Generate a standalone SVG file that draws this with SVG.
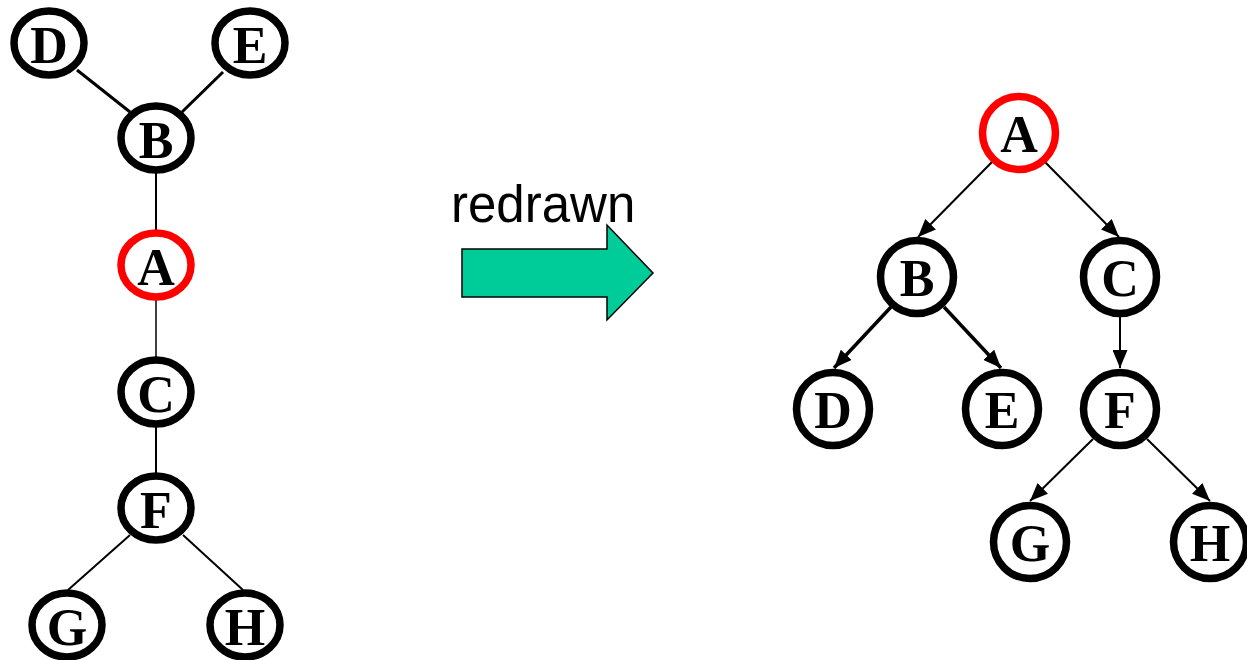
<svg xmlns="http://www.w3.org/2000/svg" width="1247" height="660" viewBox="0 0 1247 660">
<defs>
<style>
.n{fill:#fff;stroke:#000;stroke-width:7.5}
.r{fill:#fff;stroke:#f00;stroke-width:7.5}
.t{font-family:"Liberation Serif","Times New Roman",serif;font-weight:bold;font-size:52px;text-anchor:middle;fill:#000}
.e{stroke:#000;fill:none}
</style>
<marker id="ah" markerUnits="userSpaceOnUse" markerWidth="18" markerHeight="15" refX="18" refY="7.5" orient="auto" viewBox="0 0 18 15">
<path d="M0,0 L18,7.5 L0,15 z" fill="#000"/>
</marker>
</defs>
<rect width="1247" height="660" fill="#fff"/>
<g id="connectors">
<line class="e" x1="77" y1="70" x2="130" y2="112" stroke-width="3"/>
<line class="e" x1="223" y1="72" x2="182" y2="112" stroke-width="3"/>
<line class="e" x1="156" y1="172" x2="156" y2="232" stroke-width="2"/>
<line class="e" x1="156" y1="298" x2="156" y2="358" stroke-width="1.5"/>
<line class="e" x1="156" y1="426" x2="156" y2="474" stroke-width="2"/>
<line class="e" x1="130" y1="535" x2="68" y2="590" stroke-width="2"/>
<line class="e" x1="183" y1="535" x2="243" y2="590" stroke-width="2"/>
<line class="e" x1="992" y1="162" x2="918" y2="237" stroke-width="2" marker-end="url(#ah)"/>
<line class="e" x1="1045" y1="162" x2="1119" y2="237" stroke-width="2" marker-end="url(#ah)"/>
<line class="e" x1="891" y1="307" x2="834" y2="368" stroke-width="3.5" marker-end="url(#ah)"/>
<line class="e" x1="944" y1="307" x2="1001" y2="368" stroke-width="3.5" marker-end="url(#ah)"/>
<line class="e" x1="1120" y1="317" x2="1120" y2="368" stroke-width="2" marker-end="url(#ah)"/>
<line class="e" x1="1093" y1="439" x2="1030" y2="501" stroke-width="2" marker-end="url(#ah)"/>
<line class="e" x1="1147" y1="439" x2="1210" y2="501" stroke-width="2" marker-end="url(#ah)"/>
</g>
<g id="L-D"><ellipse class="n" cx="49" cy="43" rx="35" ry="32"/><text class="t" x="49" y="63">D</text></g>
<g id="L-E"><ellipse class="n" cx="250" cy="43" rx="35" ry="32"/><text class="t" x="250" y="63">E</text></g>
<g id="L-B"><ellipse class="n" cx="156" cy="138" rx="35" ry="32"/><text class="t" x="156" y="158">B</text></g>
<g id="L-A"><ellipse class="r" cx="156" cy="265" rx="35" ry="32"/><text class="t" x="156" y="285">A</text></g>
<g id="L-C"><ellipse class="n" cx="156" cy="392" rx="35" ry="32"/><text class="t" x="156" y="412">C</text></g>
<g id="L-F"><ellipse class="n" cx="156" cy="508" rx="35" ry="32"/><text class="t" x="156" y="528">F</text></g>
<g id="L-G"><ellipse class="n" cx="67" cy="625" rx="35" ry="32"/><text class="t" x="67" y="645">G</text></g>
<g id="L-H"><ellipse class="n" cx="245" cy="625" rx="35" ry="32"/><text class="t" x="245" y="645">H</text></g>
<g id="redrawn">
<text x="451" y="222" font-family="Liberation Sans, Arial, sans-serif" font-size="51" fill="#000">redrawn</text>
<path d="M462,249 L607,249 L607,225 L653,273 L607,320 L607,297 L462,297 Z" fill="#00CC99" stroke="#000" stroke-width="1.5"/>
</g>
<g id="R-A"><circle class="r" cx="1019" cy="133" r="36.5"/><text class="t" x="1019" y="152">A</text></g>
<g id="R-B"><circle class="n" cx="917" cy="277" r="36.5"/><text class="t" x="917" y="296">B</text></g>
<g id="R-C"><circle class="n" cx="1120" cy="277" r="36.5"/><text class="t" x="1120" y="296">C</text></g>
<g id="R-D"><circle class="n" cx="833" cy="409" r="36.5"/><text class="t" x="833" y="428">D</text></g>
<g id="R-E"><circle class="n" cx="1002" cy="409" r="36.5"/><text class="t" x="1002" y="428">E</text></g>
<g id="R-F"><circle class="n" cx="1120" cy="409" r="36.5"/><text class="t" x="1120" y="428">F</text></g>
<g id="R-G"><circle class="n" cx="1030" cy="542" r="36.5"/><text class="t" x="1030" y="561">G</text></g>
<g id="R-H"><circle class="n" cx="1210" cy="542" r="36.5"/><text class="t" x="1210" y="561">H</text></g>
</svg>
